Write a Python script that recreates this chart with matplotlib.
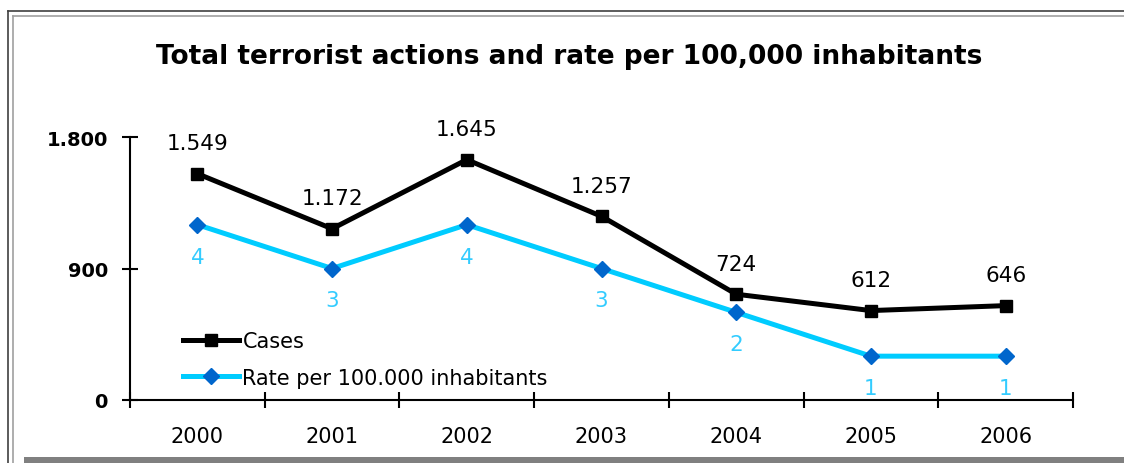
import matplotlib.pyplot as plt
from matplotlib.lines import Line2D
from matplotlib.patches import Rectangle

# データ
years = ["2000", "2001", "2002", "2003", "2004", "2005", "2006"]
cases = [1549, 1172, 1645, 1257, 724, 612, 646]
rate = [4, 3, 4, 3, 2, 1, 1]
case_labels = ["1.549", "1.172", "1.645", "1.257", "724", "612", "646"]
y_ticks = [0, 900, 1800]
y_tick_labels = ["0", "900", "1.800"]

W, H = 1124, 464
fig = plt.figure(figsize=(W / 100, H / 100), dpi=100)
fig.patch.set_facecolor("white")


def px(x0, y0, x1, y1):
    """ピクセル座標 -> figure座標"""
    return [x0 / W, x1 / W], [1 - y0 / H, 1 - y1 / H]


# 外枠
for (x0, y0, x1, y1), c in [
    ((8, 12, 1124, 12), "#404040"),
    ((13, 17, 1124, 17), "#a0a0a0"),
    ((8, 12, 8, 464), "#404040"),
    ((13, 17, 13, 464), "#a0a0a0"),
]:
    xs, ys = px(x0, y0, x1, y1)
    fig.add_artist(Line2D(xs, ys, color=c, lw=1.2, transform=fig.transFigure))
fig.add_artist(
    Rectangle((24 / W, 0), 1 - 24 / W, 6 / H, color="#808080",
              transform=fig.transFigure, lw=0)
)

ax = fig.add_axes([130 / W, 1 - 401 / H, (1073 - 130) / W, (401 - 138) / H])
x = list(range(len(years)))

ax.plot(x, cases, color="black", lw=3.6, marker="s", markersize=8.5,
        label="Cases", zorder=3)
ax.set_xlim(-0.5, len(years) - 0.5)
ax.set_ylim(0, 1800)

ax2 = ax.twinx()
ax2.plot(x, rate, color="#00ccff", lw=3.6, marker="D", markersize=8,
         markerfacecolor="#0066cc", markeredgecolor="#0066cc",
         label="Rate per 100.000 inhabitants", zorder=3)
ax2.set_ylim(0, 6)
ax2.axis("off")

for xi, yi, lab in zip(x, cases, case_labels):
    ax.annotate(lab, (xi, yi), xytext=(0, 22), textcoords="offset points",
                ha="center", va="center", fontsize=15.5, color="black")
for xi, yi in zip(x, rate):
    ax2.annotate(str(yi), (xi, yi), xytext=(0, -23), textcoords="offset points",
                 ha="center", va="center", fontsize=15.5, color="#33ccff")

# 軸
for s in ["top", "right"]:
    ax.spines[s].set_visible(False)
ax.spines["left"].set_linewidth(1.5)
ax.spines["bottom"].set_linewidth(1.5)
ax.set_yticks(y_ticks)
ax.set_yticklabels(y_tick_labels, fontsize=14, fontweight="bold")
ax.tick_params(axis="y", direction="inout", length=12, width=1.5, pad=10)
ax.set_xticks(x)
ax.set_xticklabels(years, fontsize=15)
ax.tick_params(axis="x", which="major", length=0, pad=19)
ax.set_xticks([i - 0.5 for i in range(len(years) + 1)], minor=True)
ax.tick_params(axis="x", which="minor", direction="inout", length=12, width=1.5)

fig.text(0.506, 1 - 57 / H, "Total terrorist actions and rate per 100,000 inhabitants",
         ha="center", va="center", fontsize=19, fontweight="bold")

h1, l1 = ax.get_legend_handles_labels()
h2, l2 = ax2.get_legend_handles_labels()
fig.legend(h1 + h2, l1 + l2, loc="upper left",
           bbox_to_anchor=(183 / W, 1 - 332 / H), frameon=False, fontsize=15,
           handlelength=2.7, handletextpad=0.15, borderpad=0, borderaxespad=0,
           labelspacing=0.8)

plt.savefig("out.png", dpi=100)
plt.close(fig)
